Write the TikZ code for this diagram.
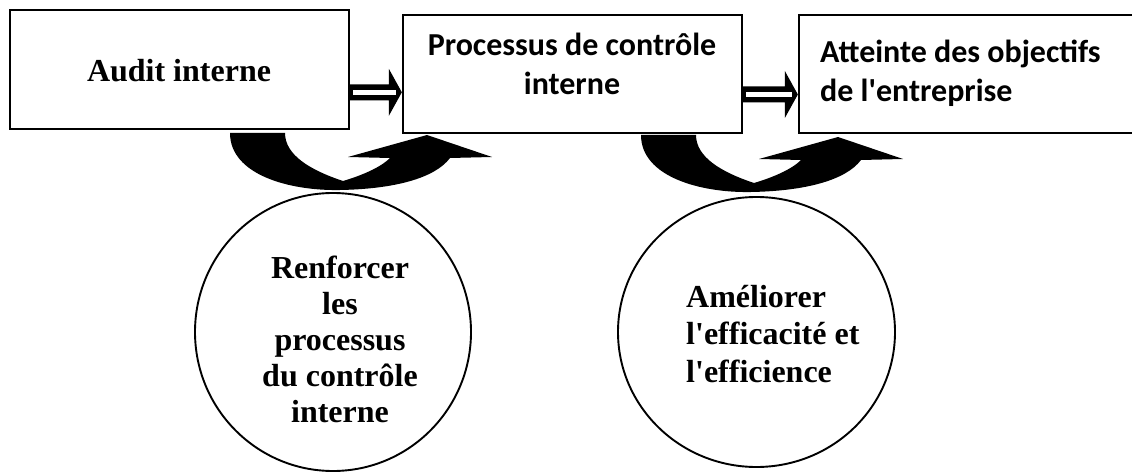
\documentclass[tikz,border=0pt]{standalone}
\usepackage{fontspec}
\newfontfamily\tnrfont{Liberation Serif}
\newfontfamily\calfont{Carlito}
\usetikzlibrary{calc,shapes.geometric}
\newcommand\dblarr[2]{%
  \fill ($(#1)+(0,-8)$) -- ($(#2)+(-13,-8)$) -- ($(#2)+(-13,-23.5)$) -- (#2)
     -- ($(#2)+(-13,23.5)$) -- ($(#2)+(-13,8)$) -- ($(#1)+(0,8)$) -- cycle;
  \fill[white] ($(#1)+(3,-2.5)$) rectangle ($(#2)+(-6,2.5)$);}
\tikzset{
  uturn/.pic={
    \fill (230,133) .. controls (230,175) and (290,191) .. (340,190)
      .. controls (395,189) and (435,178) .. (450,158)
      -- (492,157) -- (427,135) -- (348,157) -- (390,158)
      .. controls (380,168) and (360,176) .. (343,181)
      .. controls (310,170) and (285,155) .. (285,133) -- cycle;
  }
}
\begin{document}
\begin{tikzpicture}[x=1pt,y=-1pt,
  box/.style={draw, line width=2.3pt, inner sep=0, minimum height=118pt},
  oval/.style={draw, ellipse, line width=1.9pt, inner sep=0},
  ttext/.style={font=\tnrfont\bfseries\fontsize{32}{36}\selectfont, inner sep=0},
  ctext/.style={font=\calfont\bfseries\fontsize{32}{39.5}\selectfont, inner sep=0}]
\useasboundingbox (0,0) rectangle (1132,473);
\fill[white] (0,0) rectangle (1132,473);
% boxes
\node[box, minimum width=339pt, minimum height=119pt] (b1) at (179.5,69.5) {};
\node[box, minimum width=339pt] (b2) at (572.5,74) {};
\node[box, minimum width=345pt] (b3) at (971.5,74) {};
% box texts (base anchor = baseline of last line)
\node[ttext, anchor=base] (t1) at (179,82) {Audit interne};
\node[ctext, align=center, anchor=base] (t2) at (572,95) {Processus de contrôle\\interne};
\node[ctext, align=left, anchor=base west] (t3) at (820,102) {Atteinte des objectifs\\de l\textquotesingle entreprise};
% double arrows
\coordinate (a1s) at ($(b1.east)+(0,22.8)$);
\coordinate (a1e) at (b2.west |- a1s);
\coordinate (a2s) at ($(b2.east)+(0,20.5)$);
\coordinate (a2e) at (b3.west |- a2s);
\dblarr{a1s}{a1e}
\dblarr{a2s}{a2e}
% curved arrows
\pic at (0,0) {uturn};
\pic at (411,2) {uturn};
% ovals
\node[oval, minimum width=276pt, minimum height=278pt] (c1) at (333,332) {};
\node[oval, minimum width=277pt, minimum height=270pt] (c2) at (756.5,332) {};
\node[ttext, align=center, anchor=base] (t4) at (340,422) {Renforcer\\les\\processus\\du contrôle\\interne};
\node[ttext, font=\tnrfont\bfseries\fontsize{32}{37.5}\selectfont, align=left, anchor=base west] (t5) at (686,382) {Améliorer\\l\textquotesingle efficacité et\\l\textquotesingle efficience};
\end{tikzpicture}
\end{document}
